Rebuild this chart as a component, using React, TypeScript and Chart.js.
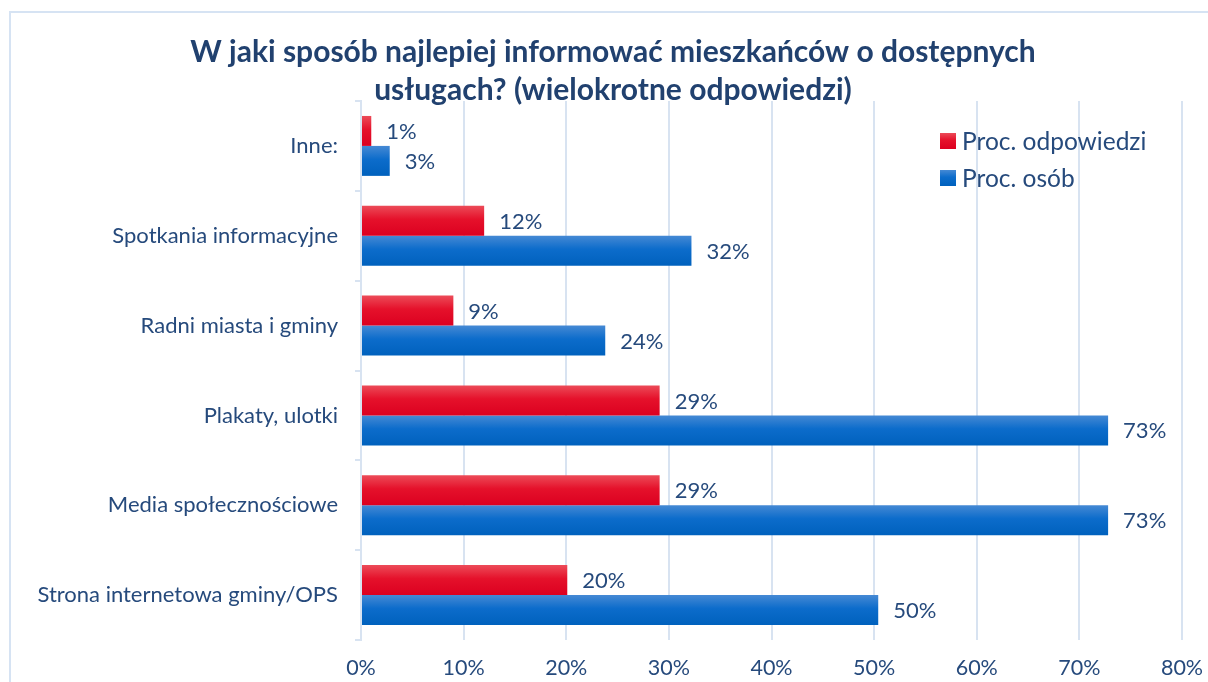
import React, { useEffect, useRef } from "react";
import { Chart, registerables } from "chart.js";

Chart.register(...registerables);

const categories = [
  "Inne:",
  "Spotkania informacyjne",
  "Radni miasta i gminy",
  "Plakaty, ulotki",
  "Media społecznościowe",
  "Strona internetowa gminy/OPS",
];
const procOdpowiedzi = [1.0, 12.0, 9.0, 29.1, 29.1, 20.1];
const procOsob = [2.8, 32.2, 23.8, 72.8, 72.8, 50.4];
const seriesNames = ["Proc. odpowiedzi", "Proc. osób"];
const titleLines = [
  "W jaki sposób najlepiej informować mieszkańców o dostępnych",
  "usługach? (wielokrotne odpowiedzi)",
];
const xMax = 80;
const xStep = 10;

const FONT = "Lato, 'Open Sans', sans-serif";
const TEXT = "#264a7c";
const TITLE = "#21416f";
const GRID = "#d8e3f1";
const CAT_PCT = 0.667;

const RED = ["#ec4b58", "#e5112b", "#dc0020"];
const BLUE = ["#4589d4", "#0c6ccb", "#0061bd"];

function gradFill(cols: string[], which: number) {
  return (ctx: any) => {
    const chart = ctx.chart;
    const ys = chart.scales && chart.scales.y;
    const area = chart.chartArea;
    if (!ys || !area || ctx.dataIndex == null) return cols[1];
    const c = ys.getPixelForValue(ctx.dataIndex);
    const cat = (area.bottom - area.top) / categories.length;
    const th = (cat * CAT_PCT) / 2;
    const y0 = which === 0 ? c - th : c;
    const g = chart.ctx.createLinearGradient(0, y0, 0, y0 + th);
    g.addColorStop(0, cols[0]);
    g.addColorStop(0.45, cols[1]);
    g.addColorStop(1, cols[2]);
    return g;
  };
}

const framePlugin = {
  id: "frame",
  beforeDraw(chart: any) {
    const c = chart.ctx;
    c.save();
    c.fillStyle = "#ffffff";
    c.fillRect(0, 0, chart.width, chart.height);
    c.strokeStyle = "#d6e3f3";
    c.lineWidth = 2;
    c.strokeRect(10, 12, 1400, 1000);
    c.restore();
  },
};

const titlePlugin = {
  id: "manualTitle",
  afterDraw(chart: any) {
    const c = chart.ctx;
    c.save();
    c.font = `bold 30px ${FONT}`;
    c.fillStyle = TITLE;
    c.textAlign = "center";
    c.textBaseline = "alphabetic";
    c.fillText(titleLines[0], 613, 62);
    c.fillText(titleLines[1], 613, 100);
    c.restore();
  },
};

const labelPlugin = {
  id: "valueLabels",
  afterDatasetsDraw(chart: any) {
    const c = chart.ctx;
    c.save();
    c.font = `22px ${FONT}`;
    c.fillStyle = TEXT;
    c.textAlign = "left";
    c.textBaseline = "middle";
    chart.data.datasets.forEach((ds: any, di: number) => {
      const meta = chart.getDatasetMeta(di);
      meta.data.forEach((el: any, i: number) => {
        c.fillText(Math.round(ds.data[i]) + "%", el.x + 15, el.y + 1);
      });
    });
    c.restore();
  },
};

const legendPlugin = {
  id: "customLegend",
  afterDraw(chart: any) {
    const c = chart.ctx;
    c.save();
    c.font = `24.5px ${FONT}`;
    c.textAlign = "left";
    c.textBaseline = "middle";
    const items = [RED, BLUE];
    items.forEach((cols, i) => {
      const y = 141 + i * 37;
      const g = c.createLinearGradient(0, y - 8, 0, y + 8);
      g.addColorStop(0, cols[0]);
      g.addColorStop(0.45, cols[1]);
      g.addColorStop(1, cols[2]);
      c.fillStyle = g;
      c.fillRect(940, y - 8, 16, 16);
      c.fillStyle = TEXT;
      c.fillText(seriesNames[i], 962, y + 1);
    });
    c.restore();
  },
};

export default function App() {
  const ref = useRef<HTMLCanvasElement>(null);
  useEffect(() => {
    if (!ref.current) return;
    const chart = new Chart(ref.current, {
      type: "bar",
      data: {
        labels: categories,
        datasets: [
          {
            label: seriesNames[0],
            data: procOdpowiedzi,
            backgroundColor: gradFill(RED, 0),
            categoryPercentage: CAT_PCT,
            barPercentage: 1,
          },
          {
            label: seriesNames[1],
            data: procOsob,
            backgroundColor: gradFill(BLUE, 1),
            categoryPercentage: CAT_PCT,
            barPercentage: 1,
          },
        ],
      },
      options: {
        indexAxis: "y",
        responsive: false,
        animation: false,
        devicePixelRatio: 1,
        layout: { padding: { left: 0, right: 26, top: 101, bottom: 0 } },
        plugins: {
          legend: { display: false },
          tooltip: { enabled: false },
          title: { display: false },
        },
        scales: {
          x: {
            min: 0,
            max: xMax,
            ticks: {
              stepSize: xStep,
              color: TEXT,
              font: { family: FONT, size: 21.5 },
              padding: 15,
              callback: (v: any) => v + "%",
            },
            grid: { color: GRID, lineWidth: 2, drawTicks: false },
            border: { display: false },
            afterFit: (s: any) => {
              s.height = 42;
              s.paddingRight = 0;
              s.paddingLeft = 0;
            },
          },
          y: {
            ticks: {
              color: TEXT,
              font: { family: FONT, size: 22 },
              padding: 17,
            },
            grid: {
              drawOnChartArea: false,
              drawTicks: true,
              tickLength: 6,
              color: GRID,
              lineWidth: 2,
            },
            border: { display: true, color: GRID, width: 2 },
            afterFit: (s: any) => {
              s.width = 361;
              s.paddingTop = 0;
              s.paddingBottom = 0;
            },
          },
        },
      },
      plugins: [framePlugin, labelPlugin, legendPlugin, titlePlugin],
    });
    return () => chart.destroy();
  }, []);
  return (
    <div style={{ position: "absolute", left: 0, top: 0, width: 1208, height: 682 }}>
      <canvas ref={ref} width={1208} height={682} style={{ width: 1208, height: 682, display: "block" }} />
    </div>
  );
}
